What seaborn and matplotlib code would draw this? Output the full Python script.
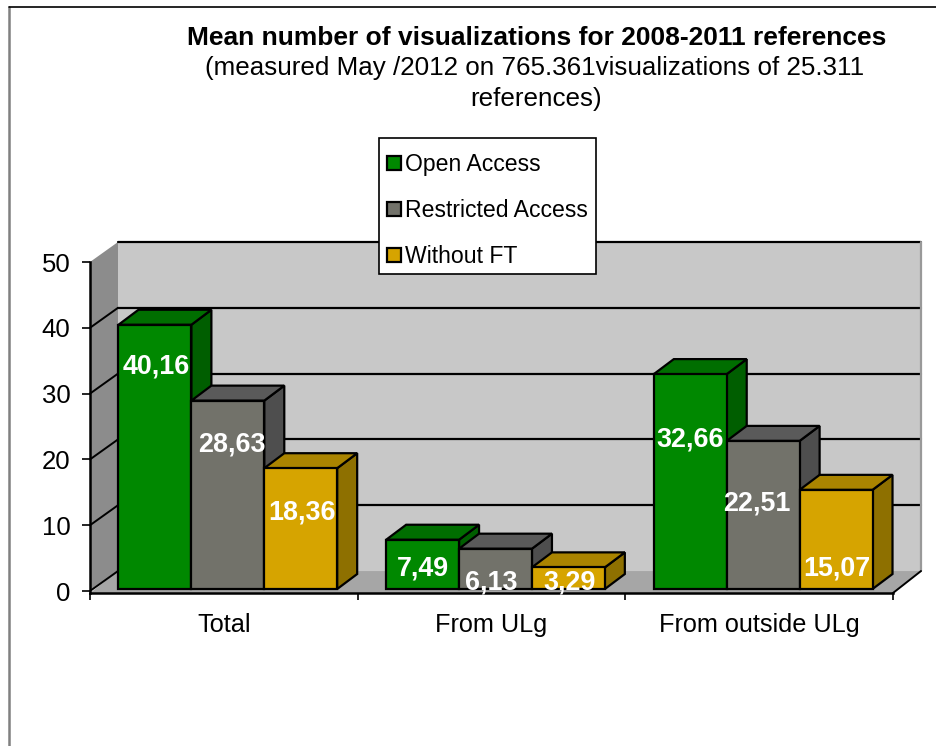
import matplotlib
matplotlib.use('Agg')
import matplotlib.pyplot as plt
from matplotlib.lines import Line2D
from matplotlib.patches import Polygon, Rectangle
import pandas as pd
import seaborn as sns

categories = ['Total', 'From ULg', 'From outside ULg']
open_access = [40.16, 7.49, 32.66]
restricted_access = [28.63, 6.13, 22.51]
without_ft = [18.36, 3.29, 15.07]
series_names = ['Open Access', 'Restricted Access', 'Without FT']
y_ticks = [0, 10, 20, 30, 40, 50]

front_colors = ['#008800', '#72726A', '#D6A400']
top_colors = ['#006E00', '#5A5A5A', '#AA8400']
side_colors = ['#005E00', '#4E4E4E', '#8E7000']

# label nudges in pixels, (dx from bar centre, dy below bar top)
label_dx = [[1, 4, 1], [0, -4, 1], [0, -6, 1]]
label_dy = [[41.5, 43.5, 44.5], [28.5, 33.5, 15.5], [65.5, 62.5, 78.5]]

W, H = 937, 746

sns.set_style('white')
plt.rcParams['font.family'] = ['Liberation Sans', 'DejaVu Sans']
plt.rcParams['text.color'] = 'black'

df = pd.DataFrame({
    'category': categories * 3,
    'series': [s for s in series_names for _ in categories],
    'value': open_access + restricted_access + without_ft,
})

fig = plt.figure(figsize=(W / 100, H / 100), dpi=100)
ax = fig.add_axes([90 / W, 1 - 593 / H, 803 / W, 331 / H])

sns.barplot(data=df, x='category', y='value', hue='series', order=categories,
            hue_order=series_names, palette=front_colors, width=0.817, gap=0,
            saturation=1, edgecolor='black', linewidth=1.6, ax=ax)

ax.set_xlim(-0.5, 2.5)
ax.set_ylim(-0.3, 50)
ux = 3 / 803
uy = 50.3 / 331

# 3d look: walls and floor behind the bars
wall_dx, wall_dy = 28 * ux, 20 * uy
ax.add_patch(Polygon([(-0.5 + wall_dx, wall_dy), (2.5 + wall_dx, wall_dy),
                      (2.5 + wall_dx, 50 + wall_dy), (-0.5 + wall_dx, 50 + wall_dy)],
                     fc='#C8C8C8', ec='none', clip_on=False, zorder=0))
ax.add_patch(Polygon([(-0.5, 0), (-0.5 + wall_dx, wall_dy), (-0.5 + wall_dx, 50 + wall_dy), (-0.5, 50)],
                     fc='#8C8C8C', ec='none', clip_on=False, zorder=0))
ax.add_patch(Polygon([(-0.5, -0.3), (-0.5 + wall_dx, wall_dy), (2.5 + wall_dx, wall_dy), (2.5, -0.3)],
                     fc='#A6A6A6', ec='none', clip_on=False, zorder=0))
for t in y_ticks[1:]:
    ax.plot([-0.5 + wall_dx, 2.5 + wall_dx], [t + wall_dy] * 2, color='black', lw=1.6,
            clip_on=False, zorder=1)
for t in y_ticks[:-1]:
    ax.plot([-0.5, -0.5 + wall_dx], [t, t + wall_dy], color='black', lw=1.4, clip_on=False, zorder=1)
ax.plot([2.5 + wall_dx] * 2, [wall_dy, 50 + wall_dy], color='#999999', lw=1.6, clip_on=False, zorder=1)
ax.plot([2.5, 2.5 + wall_dx], [-0.3, wall_dy], color='black', lw=1.4, clip_on=False, zorder=1)

# shift the bars into the box and give each one a top and a side
shift_x, shift_y = 4 * ux, 2 * uy
depth_x, depth_y = 20 * ux, 15 * uy
z = 3
for c in range(3):
    for s, cont in enumerate(ax.containers):
        bar = cont[c]
        x0 = bar.get_x() + shift_x
        x1 = x0 + bar.get_width()
        h = bar.get_height()
        top = h + shift_y
        bar.set_x(x0)
        bar.set_y(shift_y)
        bar.set_zorder(z + 2)
        ax.add_patch(Polygon([(x1, shift_y), (x1 + depth_x, shift_y + depth_y),
                              (x1 + depth_x, top + depth_y), (x1, top)],
                             fc=side_colors[s], ec='black', lw=1.6, clip_on=False, zorder=z))
        ax.add_patch(Polygon([(x0, top), (x0 + depth_x, top + depth_y),
                              (x1 + depth_x, top + depth_y), (x1, top)],
                             fc=top_colors[s], ec='black', lw=1.6, clip_on=False, zorder=z + 1))
        ax.text((x0 + x1) / 2 + label_dx[c][s] * ux, top - label_dy[c][s] * uy,
                f'{h:.2f}'.replace('.', ','), color='white', fontsize=19.4, fontweight='bold',
                ha='center', va='center', zorder=200)
        z += 3

for side in ['top', 'right']:
    ax.spines[side].set_visible(False)
for side in ['left', 'bottom']:
    ax.spines[side].set_color('black')
    ax.spines[side].set_linewidth(1.8)
    ax.spines[side].set_zorder(150)

ax.set_xlabel('')
ax.set_ylabel('')
ax.set_yticks(y_ticks)
ax.set_xticks([-0.5, 0.5, 1.5, 2.5], minor=True)
ax.tick_params(axis='x', which='minor', bottom=True, length=5, width=1.2, color='black')
ax.tick_params(axis='x', which='major', bottom=False, labelsize=18.2, pad=11, labelcolor='black')
ax.tick_params(axis='y', left=True, length=6, width=1.2, color='black', labelsize=18.5, pad=8, labelcolor='black')

# legend box is drawn apart because its padding is uneven
ax.add_patch(Rectangle((379 / W, 1 - 274 / H), 217 / W, 136.5 / H, transform=fig.transFigure,
                       fc='white', ec='black', lw=1.2, clip_on=False, zorder=299))
handles, labels = ax.get_legend_handles_labels()
leg = ax.legend(handles, labels, loc='upper left', bbox_to_anchor=(387 / W, 1 - 153 / H),
                bbox_transform=fig.transFigure, borderaxespad=0, frameon=False, fontsize=16.6,
                handlelength=0.6, handleheight=0.6, handletextpad=0.17, labelspacing=1.0,
                borderpad=0)
leg.set_zorder(300)

fig.text(537 / W, 1 - 38 / H, 'Mean number of visualizations for 2008-2011 references',
         fontsize=19, fontweight='bold', ha='center', va='center')
fig.text(535 / W, 1 - 68 / H, '(measured May /2012 on 765.361visualizations of 25.311',
         fontsize=18.7, ha='center', va='center')
fig.text(536 / W, 1 - 99 / H, 'references)', fontsize=18.7, ha='center', va='center')

# slide border
fig.add_artist(Line2D([9 / W, 9 / W], [0, 1 - 7 / H], color='#808080', lw=1.8))
fig.add_artist(Line2D([9 / W, 1], [1 - 7 / H, 1 - 7 / H], color='black', lw=1.2))

fig.savefig('out.png', dpi=100)
